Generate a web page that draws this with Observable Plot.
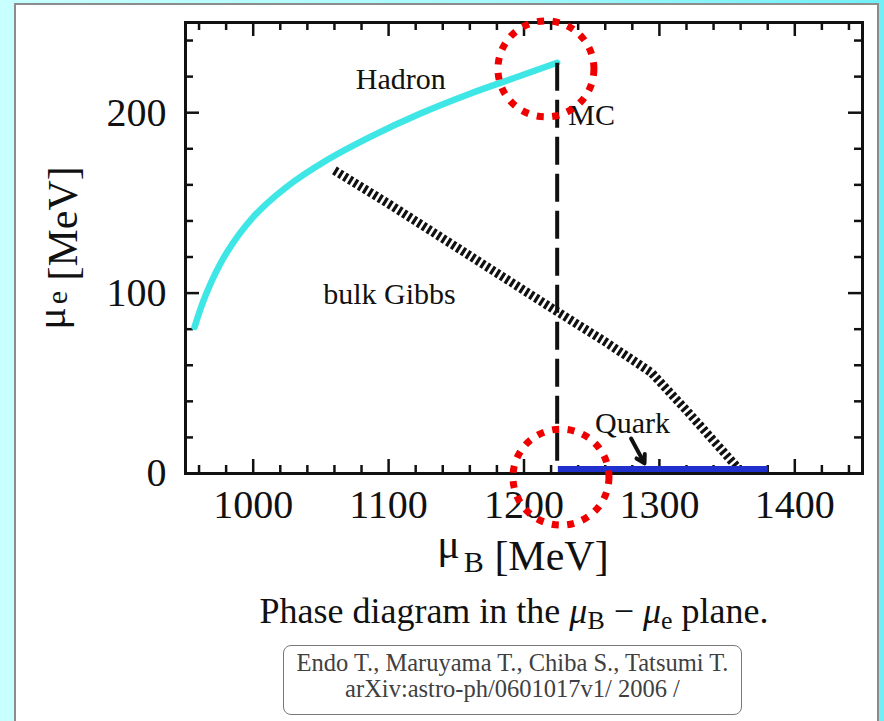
<!DOCTYPE html>
<html><head><meta charset="utf-8">
<script src="https://cdn.jsdelivr.net/npm/d3@7"></script>
<script src="https://cdn.jsdelivr.net/npm/@observablehq/plot@0.6"></script>
<style>
html,body{margin:0;padding:0;width:884px;height:721px;overflow:hidden;}
body{position:relative;background:linear-gradient(to right,#c8ffff 0%,#a6f9fc 55%,#70eff6 100%);font-family:'Liberation Serif','Times New Roman',serif;}
#panel{position:absolute;left:14px;top:3px;width:865px;height:740px;background:#fff;border:2px solid #8c8c8c;box-sizing:border-box;}
#chart{position:absolute;left:0;top:0;}
#caption{position:absolute;left:114px;width:800px;top:593px;text-align:center;font-size:36px;line-height:36px;color:#111;white-space:nowrap;}
#caption .s{font-size:0.72em;position:relative;top:0.22em;}
#ref{position:absolute;left:283px;top:645px;width:459px;height:70px;box-sizing:border-box;border:1.5px solid #777;border-radius:8px;padding-top:4px;text-align:center;font-size:24.5px;line-height:26px;color:#404040;white-space:nowrap;}
</style></head>
<body>
<div id="panel"></div>
<div id="chart"></div>
<div id="caption">Phase diagram in the <i>μ</i><span class="s">B</span> − <i>μ</i><span class="s">e</span> plane.</div>
<div id="ref">Endo T., Maruyama T., Chiba S., Tatsumi T.<br>arXiv:astro-ph/0601017v1/ 2006 /</div>
<script>
// ---- data ----
const hadronX = [956.7, 965.3, 980.1, 999.8, 1024.4, 1053.9, 1088.3, 1122.7, 1159.6, 1196.5, 1224.5];
const hadronY = [81.2, 99.7, 122.0, 142.0, 158.7, 173.5, 187.3, 199.3, 210.4, 220.2, 227.7];
const mcX = [1224.5, 1224.5];
const mcY = [227.7, 3.0];
const gibbsX = [1060, 1100, 1150, 1200, 1224, 1260, 1294, 1320, 1358];
const gibbsY = [168, 149.5, 125.5, 101.5, 90, 73, 56, 35, 3];
const quarkX = [1225, 1380];
const quarkY = [2.5, 2.5];
const labelText = ["Hadron", "MC", "bulk Gibbs", "Quark"];
const labelX = [1109, 1250, 1100.6, 1280.2];
const labelY = [218.5, 198.3, 99.3, 27.7];
const arrowX1 = [1279.1], arrowY1 = [19.4], arrowX2 = [1289.0], arrowY2 = [5.6];
const markX = [1216.2, 1227.3];
const markY = [224.3, -2.0];
const xMajor = [1000, 1100, 1200, 1300, 1400];
const xMinor = [960, 980, 1020, 1040, 1060, 1080, 1120, 1140, 1160, 1180, 1220, 1240, 1260, 1280, 1320, 1340, 1360, 1380, 1420, 1440];
const yMajor = [0, 100, 200];
const yMinor = [20, 40, 60, 80, 120, 140, 160, 180, 220, 240];

const zip = (xs, ys) => xs.map((x, i) => ({x, y: ys[i]}));
const hadron = zip(hadronX, hadronY);
const mc = zip(mcX, mcY);
const gibbs = zip(gibbsX, gibbsY);
const quark = zip(quarkX, quarkY);
const labels = labelText.map((t, i) => ({t, x: labelX[i], y: labelY[i]}));
const arrows = arrowX1.map((x1, i) => ({x1, y1: arrowY1[i], x2: arrowX2[i], y2: arrowY2[i]}));
const marks = zip(markX, markY);

const W = 884, H = 580, mL = 185, mR = 22, mT = 22, mB = 107;
const fw = W - mL - mR, fh = H - mT - mB;
const serif = "'Liberation Serif','Times New Roman',serif";

const plot = Plot.plot({
  width: W, height: H,
  marginLeft: mL, marginRight: mR, marginTop: mT, marginBottom: mB,
  x: {domain: [950, 1450]},
  y: {domain: [0, 250]},
  style: {background: "transparent", fontFamily: serif, color: "#111", overflow: "visible"},
  marks: [
    // ticks (inward, all four sides)
    Plot.ruleX(xMinor, {insetTop: fh - 8, strokeWidth: 2.5, stroke: "#111"}),
    Plot.ruleX(xMajor, {insetTop: fh - 14, strokeWidth: 2.5, stroke: "#111"}),
    Plot.ruleX(xMinor, {insetBottom: fh - 8, strokeWidth: 2.5, stroke: "#111"}),
    Plot.ruleX(xMajor, {insetBottom: fh - 14, strokeWidth: 2.5, stroke: "#111"}),
    Plot.ruleY(yMinor, {insetRight: fw - 8, strokeWidth: 2.5, stroke: "#111"}),
    Plot.ruleY(yMajor, {insetRight: fw - 14, strokeWidth: 2.5, stroke: "#111"}),
    Plot.ruleY(yMinor, {insetLeft: fw - 8, strokeWidth: 2.5, stroke: "#111"}),
    Plot.ruleY(yMajor, {insetLeft: fw - 14, strokeWidth: 2.5, stroke: "#111"}),
    Plot.axisX(xMajor, {tickSize: 0, tickPadding: 16, fontSize: 40, label: null, tickFormat: d => String(d)}),
    Plot.axisY(yMajor, {tickSize: 0, tickPadding: 19, fontSize: 40, label: null, tickFormat: d => String(d)}),
    // curves
    Plot.line(hadron, {x: "x", y: "y", stroke: "#3fe6e6", strokeWidth: 6.5, curve: "catmull-rom"}),
    Plot.line(mc, {x: "x", y: "y", stroke: "#111", strokeWidth: 4, strokeDasharray: "28,9", strokeLinecap: "butt"}),
    Plot.line(gibbs, {x: "x", y: "y", stroke: "#111", strokeWidth: 9, strokeDasharray: "3.2,2.6", strokeLinecap: "butt", strokeLinejoin: "miter", curve: "linear"}),
    Plot.line(quark, {x: "x", y: "y", stroke: "#2030cc", strokeWidth: 6, strokeLinecap: "butt"}),
    Plot.frame({stroke: "#111", strokeWidth: 3}),
    Plot.arrow(arrows, {x1: "x1", y1: "y1", x2: "x2", y2: "y2", stroke: "#111", strokeWidth: 4, headLength: 14}),
    Plot.text(labels, {x: "x", y: "y", text: "t", fontSize: 30, fill: "#111"}),
    Plot.dot(marks, {x: "x", y: "y", r: 48, stroke: "#ee0000", strokeWidth: 7, strokeDasharray: "7,8.5", fill: "none"})
  ]
});
document.getElementById("chart").appendChild(plot);

// axis titles with sub-scripts
const svg = d3.select(plot);
const xl = svg.append("text").attr("x", 523).attr("y", 570).attr("text-anchor", "middle")
  .attr("font-family", serif).attr("fill", "#111").attr("font-size", 42);
xl.append("tspan").attr("dy", -12).text("μ");
xl.append("tspan").attr("dy", 14).attr("dx", 4).attr("font-size", 30).text("B");
xl.append("tspan").attr("dy", -2).text(" [MeV]");

const yl = svg.append("text").attr("transform", "translate(77,248) rotate(-90)").attr("text-anchor", "middle")
  .attr("font-family", serif).attr("fill", "#111").attr("font-size", 42);
yl.append("tspan").attr("dy", -12).text("μ");
yl.append("tspan").attr("dy", 2).attr("dx", 3).attr("font-size", 30).text("e");
yl.append("tspan").attr("dy", 10).text(" [MeV]");
</script>
</body></html>
